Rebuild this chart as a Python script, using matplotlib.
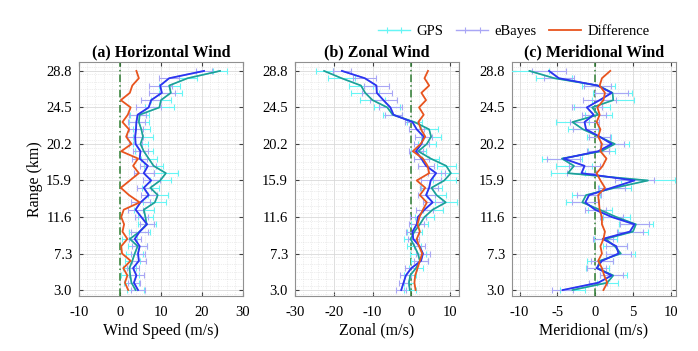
import numpy as np
import matplotlib.pyplot as plt
from matplotlib.ticker import MultipleLocator, AutoMinorLocator

plt.rcParams['font.family'] = ['Liberation Serif', 'DejaVu Serif']
plt.rcParams['axes.unicode_minus'] = False

# range gates (km)
rng = [3.00, 3.86, 4.72, 5.58, 6.44, 7.30, 8.16, 9.02, 9.88, 10.74, 11.60,
       12.46, 13.32, 14.18, 15.04, 15.90, 16.76, 17.62, 18.48, 19.34, 20.20,
       21.06, 21.92, 22.78, 23.64, 24.50, 25.36, 26.22, 27.08, 27.94, 28.80]
ytick_vals = [3.0, 7.3, 11.6, 15.9, 20.2, 24.5, 28.8]

# (a) horizontal wind speed
gps_a = [3.8, 2.8, 2.5, 2.3, 3.0, 3.6, 4.3, 2.4, 4.8, 6.5, 6.2, 5.8, 8.5, 9.2, 7.4, 9.8,
         11.2, 8.2, 7.0, 5.8, 5.0, 5.6, 5.2, 4.6, 4.8, 9.6, 10.0, 12.4, 12.0, 16.5, 24.4]
eb_a = [4.4, 3.4, 4.0, 3.2, 4.6, 4.4, 4.8, 3.6, 4.8, 6.6, 5.2, 3.8, 5.0, 7.0, 5.8, 7.6,
        5.8, 6.8, 4.8, 5.0, 3.8, 3.7, 3.9, 4.0, 4.3, 7.0, 7.6, 10.2, 9.8, 12.0, 20.5]
diff_a = [2.0, 1.2, 1.8, 0.8, 2.6, 0.5, 0.3, 1.8, 0.6, 1.0, 0.3, 0.9, 4.8, 2.2, 0.2, 2.4,
          4.6, 3.2, 4.4, 0.3, 2.8, 1.5, 2.2, 0.6, 1.9, 2.6, 0.2, 2.4, 3.0, 4.6, 4.0]
gps_err_a = [2.0, 1.8, 2.2, 1.5, 1.9, 2.1, 2.4, 1.8, 2.6, 2.2, 1.9, 2.5, 2.8, 2.4, 2.1, 2.6,
             2.9, 2.3, 2.0, 2.2, 1.8, 2.4, 2.0, 2.5, 2.3, 3.6, 2.4, 2.8, 2.6, 2.2, 1.6]
eb_err_a = [1.6, 1.5, 1.8, 1.4, 1.7, 1.6, 1.9, 1.5, 2.0, 1.8, 1.6, 1.9, 2.2, 2.0, 1.7, 2.1,
            2.4, 2.0, 1.8, 1.9, 1.6, 2.0, 1.7, 2.1, 2.0, 3.0, 2.5, 3.2, 2.8, 2.4, 2.0]

# (b) zonal wind
gps_b = [-0.4, -0.6, -0.3, 1.2, 2.2, 1.7, 0.8, -0.2, 0.8, 2.2, 3.4, 5.5, 8.9, 6.5, 5.2, 8.5,
         10.2, 9.0, 5.0, 1.8, 4.0, 5.1, 4.6, 0.8, -4.8, -6.2, -10.0, -11.9, -13.0, -18.0, -22.5]
eb_b = [-2.6, -2.0, -1.4, 0.0, 2.5, 3.0, 2.1, 0.5, 0.3, 1.4, 1.7, 3.4, 5.5, 3.8, 4.6, 5.0,
        6.4, 3.8, 2.6, 1.2, 2.6, 3.2, 1.4, 0.3, -4.6, -5.4, -7.2, -8.9, -9.0, -12.0, -17.9]
diff_b = [1.1, 0.8, 1.0, 1.6, 2.2, 2.8, 2.0, 1.4, 2.2, 1.6, 2.1, 3.0, 4.0, 2.2, 3.6, 1.4,
          4.6, 4.2, 3.0, 0.4, 2.4, 3.6, 2.5, 1.8, 3.2, 2.0, 3.8, 2.6, 4.6, 3.4, 4.3]
gps_err_b = [1.5, 1.4, 1.6, 1.8, 2.2, 2.0, 1.8, 1.6, 1.9, 2.2, 2.4, 2.6, 2.8, 2.5, 2.7, 3.0,
             2.6, 2.4, 2.2, 2.0, 2.4, 2.6, 2.2, 2.0, 2.4, 3.4, 3.2, 3.6, 3.0, 3.4, 2.2]
eb_err_b = [1.3, 1.2, 1.4, 1.5, 1.8, 1.7, 1.5, 1.4, 1.6, 1.9, 2.0, 2.2, 2.4, 2.2, 2.3, 2.6,
            2.2, 2.0, 1.9, 1.7, 2.0, 2.2, 1.9, 1.8, 2.2, 3.0, 3.4, 3.8, 3.2, 3.0, 2.4]

# (c) meridional wind
gps_c = [-3.0, 1.6, 2.4, 0.3, 0.6, 3.4, 2.6, 1.4, 5.0, 5.4, 2.8, 0.6, -1.7, -1.2, 2.6, 7.0,
         -3.6, -2.8, -4.4, 0.8, 2.6, 0.5, -1.6, -3.0, 0.4, -0.4, 2.4, 2.3, 0.4, -5.4, -8.7]
eb_c = [-4.3, 0.4, 2.2, 0.2, 0.9, 3.1, 2.8, 1.0, 4.6, 5.2, 2.2, 0.0, -1.3, -0.8, 2.2, 5.2,
        -1.8, -1.4, -4.2, 0.4, 2.2, 0.6, -1.2, -1.4, -0.2, -1.1, 0.6, 2.2, 0.3, -4.8, -6.1]
diff_c = [1.1, 1.6, 1.2, 0.9, 0.4, 0.9, 0.7, 1.1, 1.3, 0.9, 0.9, 0.6, 0.5, 0.4, 1.3, 0.7,
          0.2, 1.0, 1.5, 0.7, 0.9, 0.4, 0.7, 0.2, 0.6, 0.3, 1.1, 1.3, 0.6, 0.9, 2.0]
gps_err_c = [1.6, 1.4, 1.8, 1.5, 1.7, 1.9, 1.6, 1.5, 2.0, 2.2, 1.8, 1.6, 2.2, 1.9, 2.1, 3.6,
             2.2, 2.4, 2.6, 1.8, 1.9, 1.6, 2.0, 2.2, 1.8, 2.4, 2.8, 2.6, 2.2, 2.4, 2.6]
eb_err_c = [1.4, 1.2, 1.5, 1.3, 1.4, 1.6, 1.4, 1.3, 1.7, 1.9, 1.5, 1.4, 1.8, 1.6, 1.8, 2.6,
            1.9, 2.0, 2.2, 1.5, 1.6, 1.4, 1.7, 1.9, 1.6, 2.0, 2.2, 2.2, 1.8, 2.0, 2.2]

panels = [
    ('(a) Horizontal Wind', 'Wind Speed (m/s)', gps_a, eb_a, diff_a, gps_err_a, eb_err_a,
     (-10, 30), [-10, 0, 10, 20, 30]),
    ('(b) Zonal Wind', 'Zonal (m/s)', gps_b, eb_b, diff_b, gps_err_b, eb_err_b,
     (-30, 12.3), [-30, -20, -10, 0, 10]),
    ('(c) Meridional Wind', 'Meridional (m/s)', gps_c, eb_c, diff_c, gps_err_c, eb_err_c,
     (-11, 10.7), [-10, -5, 0, 5, 10]),
]

fig = plt.figure(figsize=(6.98, 3.51), dpi=100)
lefts = [79, 295, 512]
handles = None
for k, (title, xlabel, gps, eb, diff, gerr, berr, xlim, xticks) in enumerate(panels):
    ax = fig.add_axes([lefts[k] / 698, 1 - 296 / 351, 164 / 698, 234 / 351])
    ax.set_xlim(*xlim)
    ax.set_ylim(2.3, 29.85)
    ax.set_xticks(xticks)
    ax.set_yticks(ytick_vals)
    ax.set_yticklabels([f'{v:.1f}' for v in ytick_vals])
    ax.xaxis.set_minor_locator(AutoMinorLocator(5))
    ax.yaxis.set_minor_locator(MultipleLocator(0.86))
    ax.grid(which='major', color='#d9d9d9', lw=0.6)
    ax.grid(which='minor', color='#dcdcdc', lw=0.5, ls=':')
    ax.set_axisbelow(True)
    ax.tick_params(which='both', direction='in', top=True, right=True, labelsize=10.5,
                   color='#404040', length=3)
    ax.tick_params(axis='x', pad=7)
    ax.tick_params(axis='y', pad=5)
    ax.tick_params(which='minor', length=0)
    for s in ax.spines.values():
        s.set_color('#909090')
        s.set_linewidth(0.8)

    ax.axvline(0, color='#2e7d32', ls=(0, (5, 2, 1, 2)), lw=1.1, zorder=2)
    h1 = ax.errorbar(gps, rng, xerr=gerr, fmt='-', color='#66f5f5', lw=1.0, elinewidth=0.8,
                     capsize=2.5, capthick=0.8, label='GPS', zorder=3)
    h2 = ax.errorbar(eb, rng, xerr=berr, fmt='-', color='#a9a6f5', lw=1.0, elinewidth=0.8,
                     capsize=2.5, capthick=0.8, label='eBayes', zorder=3)
    ax.plot(gps, rng, color='#1f9e96', lw=1.2, zorder=4)
    ax.plot(eb, rng, color='#2b35f0', lw=1.3, zorder=5)
    h3, = ax.plot(diff, rng, color='#e8541e', lw=1.3, zorder=6, label='Difference')

    ax.set_title(title, fontsize=11.5, fontweight='bold', pad=4)
    ax.set_xlabel(xlabel, fontsize=11.5, labelpad=3)
    if k == 0:
        ax.set_ylabel('Range (km)', fontsize=11.5, labelpad=2)
    handles = [h1, h2, h3]

fig.legend(handles, ['GPS', 'eBayes', 'Difference'], loc='center right',
           bbox_to_anchor=(0.945, 0.91), ncol=3, frameon=False, fontsize=10.5,
           handlelength=2.2, columnspacing=0.9, handletextpad=0.4, borderpad=0.2)

fig.savefig('out.png', dpi=100)
